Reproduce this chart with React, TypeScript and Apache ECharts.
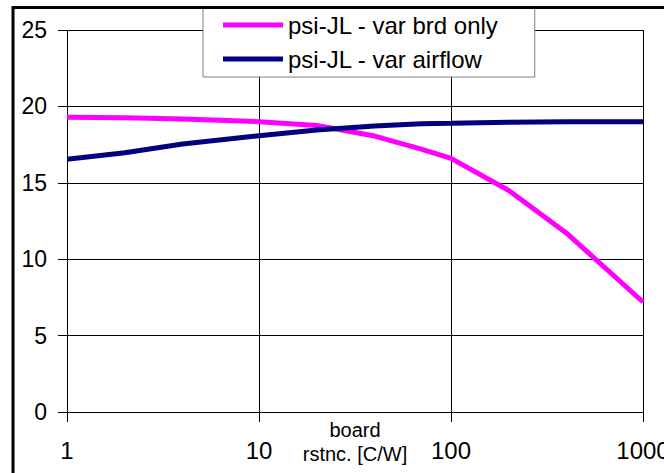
import React, { useEffect, useRef } from "react";
import * as echarts from "echarts";

const xValues = [1, 2, 4, 10, 20, 40, 70, 100, 200, 400, 1000];
const brdOnly = [19.29, 19.26, 19.18, 19.0, 18.75, 18.06, 17.2, 16.6, 14.5, 11.7, 7.2];
const airflow = [16.54, 16.97, 17.54, 18.08, 18.45, 18.72, 18.87, 18.9, 18.97, 19.0, 19.0];
const seriesNames = ["psi-JL - var brd only", "psi-JL - var airflow"];
const seriesColors = ["#FF00FF", "#000080"];
const xAxisTitle = "board\nrstnc. [C/W]";

const FONT = "Arial, 'Liberation Sans', sans-serif";

export default function App() {
  const ref = useRef<HTMLDivElement>(null);
  useEffect(() => {
    const chart = echarts.init(ref.current!, null, { renderer: "svg" });
    chart.setOption({
      animation: false,
      backgroundColor: "#ffffff",
      grid: {
        left: 67,
        right: 21,
        top: 30,
        bottom: 61,
        containLabel: false,
        outerBoundsMode: "none",
      },
      legend: {
        orient: "vertical",
        left: 203,
        top: 8,
        data: seriesNames,
        icon: "rect",
        itemWidth: 60,
        itemHeight: 5,
        itemGap: 10,
        itemTextGap: 5,
        itemStyle: { borderWidth: 0 },
        padding: [5, 36, 6, 20],
        backgroundColor: "#ffffff",
        borderColor: "#808080",
        borderWidth: 1,
        textStyle: { fontFamily: FONT, fontSize: 24, color: "#000", lineHeight: 24 },
      },
      xAxis: {
        type: "log",
        logBase: 10,
        min: 1,
        max: 1000,
        name: xAxisTitle,
        nameLocation: "middle",
        nameGap: 6,
        nameMoveOverlap: false,
        nameTextStyle: {
          fontFamily: FONT,
          fontSize: 20,
          color: "#000",
          lineHeight: 24,
          verticalAlign: "top",
        },
        axisLine: { show: true, onZero: false, lineStyle: { color: "#000", width: 1 } },
        axisTick: { show: true, inside: false, length: 10, lineStyle: { color: "#000" } },
        minorTick: { show: false },
        axisLabel: {
          fontFamily: FONT,
          fontSize: 24,
          color: "#000",
          margin: 26,
          formatter: (v: number) => String(v),
        },
        splitLine: { show: true, lineStyle: { color: "#000", width: 1 } },
      },
      yAxis: {
        type: "value",
        min: 0,
        max: 25,
        interval: 5,
        axisLine: { show: false },
        axisTick: { show: true, inside: false, length: 9, lineStyle: { color: "#000" } },
        axisLabel: { fontFamily: FONT, fontSize: 23, color: "#000", margin: 20 },
        splitLine: { show: true, lineStyle: { color: "#000", width: 1 } },
      },
      series: [
        {
          name: seriesNames[0],
          type: "line",
          data: xValues.map((x, i) => [x, brdOnly[i]]),
          showSymbol: false,
          symbol: "none",
          lineStyle: { color: seriesColors[0], width: 5 },
          itemStyle: { color: seriesColors[0] },
          z: 3,
        },
        {
          name: seriesNames[1],
          type: "line",
          data: xValues.map((x, i) => [x, airflow[i]]),
          showSymbol: false,
          symbol: "none",
          lineStyle: { color: seriesColors[1], width: 5 },
          itemStyle: { color: seriesColors[1] },
          z: 4,
        },
      ],
      graphic: [
        {
          type: "rect",
          shape: { x: 13, y: 7.5, width: 700, height: 520 },
          style: { fill: "none", stroke: "#000", lineWidth: 3 },
          z: 100,
          silent: true,
        },
      ],
    });
    return () => chart.dispose();
  }, []);
  return (
    <div
      ref={ref}
      style={{ position: "fixed", left: 0, top: 0, width: 664, height: 473 }}
    />
  );
}
